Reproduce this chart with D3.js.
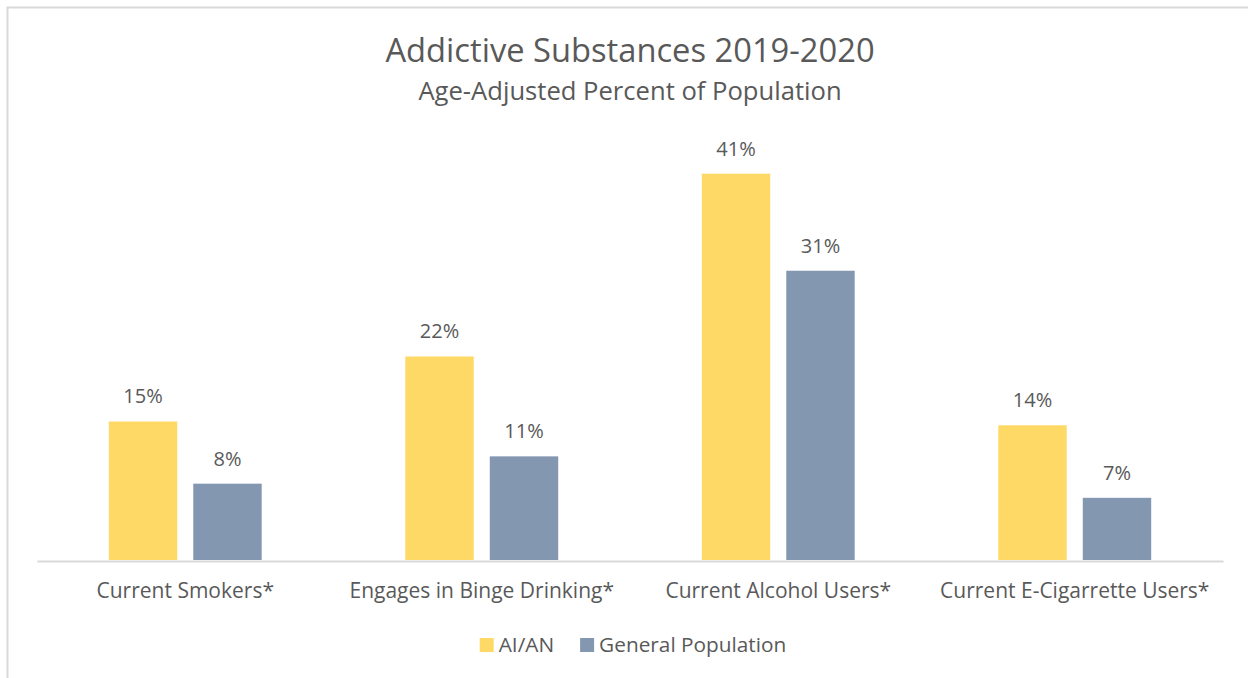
<!DOCTYPE html>
<html>
<head>
<meta charset="utf-8">
<script src="https://cdn.jsdelivr.net/npm/d3@7"></script>
<style>
  body { margin: 0; background: #fff; }
  text { font-family: "Open Sans", Lato, sans-serif; fill: #595959; font-variant-ligatures: none; }
</style>
</head>
<body>
<div id="chart"></div>
<script>
// data (labels show rounded values)
const categories = ['Current Smokers*', 'Engages in Binge Drinking*', 'Current Alcohol Users*', 'Current E-Cigarrette Users*']
const series = ['AI/AN', 'General Population']
const aianValues = [14.7, 21.6, 41.0, 14.3]
const generalValues = [8.1, 11.0, 30.7, 6.6]
const colors = ['#FFD966', '#8497B0']

function draw(){
    const dimension = {
        width: 1248,
        height: 678,
        left: 37,
        right: 1223,
        baseline: 560
    }

    const rows = categories.map((c, i) => ({
        cat: c,
        values: [aianValues[i], generalValues[i]]
    }))

    const svg = d3.select('#chart')
        .append('svg')
        .attr('width', dimension.width)
        .attr('height', dimension.height)

    // outer frame
    svg.append('rect')
        .attr('x', 7.5)
        .attr('y', 7.5)
        .attr('width', 1300)
        .attr('height', 800)
        .attr('fill', 'none')
        .attr('stroke', '#d9d9d9')
        .attr('stroke-width', 2)

    // titles
    svg.append('text')
        .attr('x', 630)
        .attr('y', 62)
        .attr('text-anchor', 'middle')
        .style('font-size', '32.7px')
        .text('Addictive Substances 2019-2020')

    svg.append('text')
        .attr('x', 630)
        .attr('y', 100)
        .attr('text-anchor', 'middle')
        .style('font-size', '25.6px')
        .text('Age-Adjusted Percent of Population')

    // scales
    const x0 = d3.scaleBand()
        .domain(categories)
        .range([dimension.left, dimension.right])
        .padding(0)

    const x1 = d3.scaleBand()
        .domain(series)
        .range([0, x0.bandwidth()])
        .paddingInner(0.19)
        .paddingOuter(0.85)

    const y = d3.scaleLinear()
        .domain([0, 45])
        .range([dimension.baseline, 136])

    const groups = svg.append('g')
        .selectAll('g')
        .data(rows)
        .join('g')
        .attr('transform', d => `translate(${x0(d.cat)}, 0)`)

    groups.selectAll('rect')
        .data(d => d.values.map((v, i) => ({ key: series[i], value: v, idx: i })))
        .join('rect')
        .attr('x', d => x1(d.key))
        .attr('y', d => y(d.value))
        .attr('width', x1.bandwidth())
        .attr('height', d => y(0) - y(d.value))
        .attr('fill', d => colors[d.idx])

    groups.selectAll('text.val')
        .data(d => d.values.map((v, i) => ({ key: series[i], value: v })))
        .join('text')
        .classed('val', true)
        .attr('x', d => x1(d.key) + x1.bandwidth() / 2)
        .attr('y', d => y(d.value) - 18)
        .attr('text-anchor', 'middle')
        .style('font-size', '20px')
        .text(d => Math.round(d.value) + '%')

    // axis line + category labels
    const xAxis = d3.axisBottom(x0).tickSize(0).tickPadding(22)
    const axisG = svg.append('g')
        .attr('transform', `translate(0, ${dimension.baseline + 1})`)
        .call(xAxis)
    axisG.select('.domain')
        .attr('stroke', '#d9d9d9')
        .attr('stroke-width', 2)
    axisG.selectAll('.tick text')
        .style('font-family', '"Open Sans", Lato, sans-serif')
        .style('font-size', '21px')
        .attr('fill', '#595959')

    // legend
    const legend = svg.append('g')
    let lx = 0
    series.forEach((s, i) => {
        const item = legend.append('g').attr('transform', `translate(${lx}, 0)`)
        item.append('rect')
            .attr('x', 0)
            .attr('y', -14)
            .attr('width', 14)
            .attr('height', 14)
            .attr('fill', colors[i])
        const t = item.append('text')
            .attr('x', 19)
            .attr('y', 0)
            .style('font-size', '20.8px')
            .text(s)
        lx += 19 + t.node().getComputedTextLength() + 26
    })
    const legendW = lx - 26
    legend.attr('transform', `translate(${633 - legendW / 2}, 652)`)
}

draw()
</script>
</body>
</html>
